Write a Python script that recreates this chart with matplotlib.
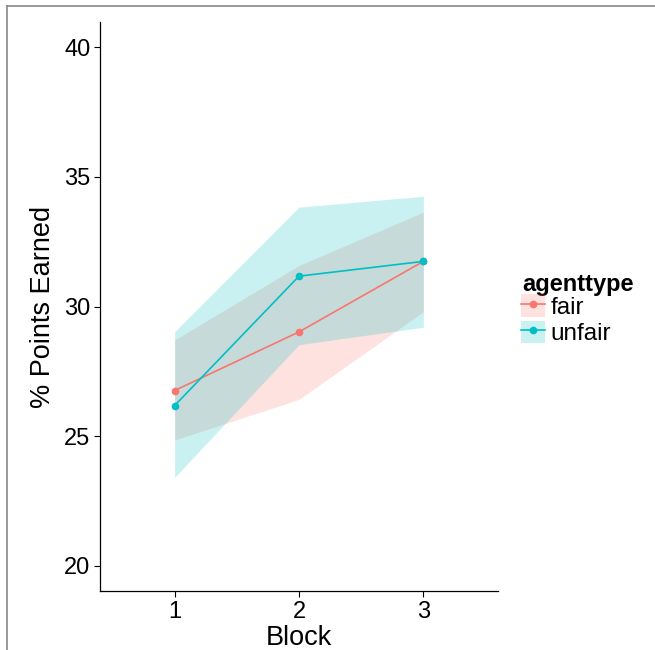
import matplotlib.pyplot as plt
from matplotlib.lines import Line2D
from matplotlib.patches import Patch

plt.rcParams['font.family'] = ['Liberation Sans', 'DejaVu Sans']

blocks = [1, 2, 3]
groups = ['fair', 'unfair']
colors = {'fair': '#F8766D', 'unfair': '#00BFC4'}

fair_mean = [26.76, 29.02, 31.74]
fair_lo = [24.85, 26.42, 29.80]
fair_hi = [28.71, 31.58, 33.64]

unfair_mean = [26.18, 31.17, 31.74]
unfair_lo = [23.41, 28.53, 29.20]
unfair_hi = [29.03, 33.83, 34.25]

yticks = [20, 25, 30, 35, 40]

fig = plt.figure(figsize=(6.55, 6.5), dpi=100)
ax = fig.add_axes([100 / 655, 59 / 650, 398 / 655, 569 / 650])

series = {
    'fair': (fair_mean, fair_lo, fair_hi),
    'unfair': (unfair_mean, unfair_lo, unfair_hi),
}
for g in groups:
    m, lo, hi = series[g]
    ax.fill_between(blocks, lo, hi, color=colors[g], alpha=0.21, lw=0)
for g in groups:
    m, lo, hi = series[g]
    ax.plot(blocks, m, color=colors[g], lw=1.2, marker='o', ms=4.5)

ax.set_xlim(0.4, 3.6)
ax.set_ylim(19.03, 40.97)
ax.set_xticks(blocks)
ax.set_yticks(yticks)
ax.tick_params(labelsize=17, length=4, width=0.8, color='black', labelcolor='black', pad=3)
for s in ['top', 'right']:
    ax.spines[s].set_visible(False)
for s in ['left', 'bottom']:
    ax.spines[s].set_linewidth(0.9)
ax.set_xlabel('Block', fontsize=19.5, labelpad=1.5)
ax.set_ylabel('% Points Earned', fontsize=19.5, labelpad=6)

# legend: title drawn separately so the gap above the keys matches
fig.text(522 / 655, 1 - 285 / 650, 'agenttype', fontsize=17, fontweight='bold',
         ha='left', va='center')
handles = [(Patch(facecolor=colors[g], alpha=0.21, lw=0),
            Line2D([], [], color=colors[g], lw=1.2, marker='o', ms=4.5)) for g in groups]
leg = fig.legend(handles, groups, loc='upper left', bbox_to_anchor=(521 / 655, 1 - 294 / 650),
                 frameon=False, fontsize=17.5, borderpad=0, borderaxespad=0,
                 handlelength=1.0, handleheight=1.05, handletextpad=0.2,
                 labelspacing=0.08)

# grey frame on the top and left edge of the picture
fig.add_artist(Line2D([7 / 655, 1], [1 - 6 / 650, 1 - 6 / 650], color='#888888', lw=1.2))
fig.add_artist(Line2D([7 / 655, 7 / 655], [0, 1 - 6 / 650], color='#888888', lw=1.2))

fig.savefig('out.png', dpi=100)
